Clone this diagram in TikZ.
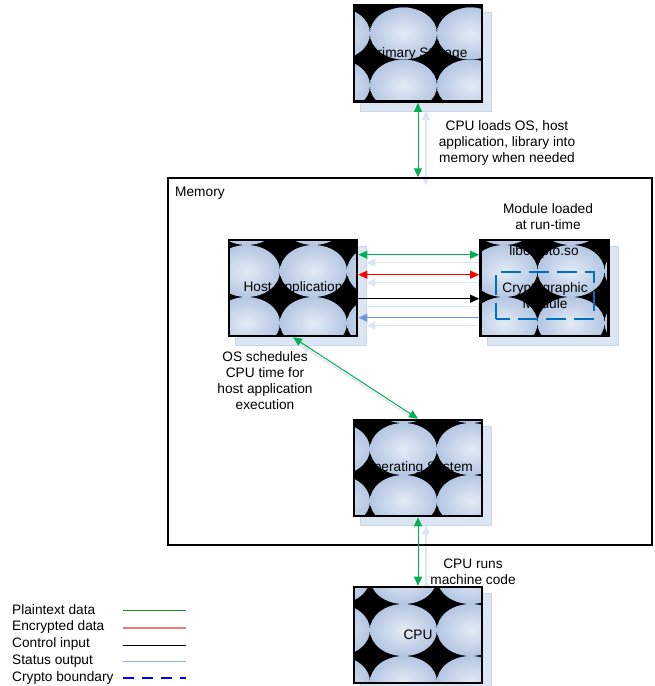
\documentclass[tikz,border=0pt]{standalone}
\usepackage{fontspec}
\setmainfont{Liberation Sans}
\usetikzlibrary{arrows.meta,calc,backgrounds}
\definecolor{shadowblue}{HTML}{DCE6F2}
\definecolor{shadowedge}{HTML}{C8D7EC}
\definecolor{ellout}{HTML}{B4C6E2}
\definecolor{ellin}{HTML}{E4EBF6}
\definecolor{plaingreen}{HTML}{00B050}
\definecolor{statusblue}{HTML}{6F98D6}
\definecolor{boundblue}{HTML}{0070C0}
\definecolor{leggreen}{HTML}{1E8C1E}
\definecolor{legred}{HTML}{F07878}
\definecolor{legblue}{HTML}{8DB4E2}
\newcommand\ellgrid[2]{%
  \fill[black] (path picture bounding box.south west) rectangle (path picture bounding box.north east);
  \foreach \i in {-1,0,1,2}{\foreach \j in {-1,0,1,2}{%
    \shade[inner color=ellin, outer color=ellout]
      ([xshift={(#1+\i*67+33.5)*1pt}, yshift={-(#2+\j*52+26)*1pt}]path picture bounding box.north west)
      ellipse [x radius=33.5pt, y radius=26pt];
  }}}
\tikzset{
  txt/.style={font=\fontsize{13.7}{16}\selectfont, align=center, inner sep=0pt},
  fancy/.style={draw=black, line width=2.6pt, minimum width=128pt, minimum height=96pt,
    inner sep=0pt, font=\fontsize{13.7}{16}\selectfont, align=center},
  tip/.tip={Triangle[length=9pt,width=8pt]},
  conn/.style={line width=1pt},
  boxshadow/.style={fill=shadowblue, draw=shadowedge, line width=0.6pt},
  arrshadow/.style={draw=shadowblue, fill=shadowblue, line width=1.2pt},
}
\begin{document}
\begin{tikzpicture}[x=1pt,y=-1pt]
\useasboundingbox (0,0) rectangle (654,686);

% memory container
\node[draw, line width=1.5pt, minimum width=484pt, minimum height=367pt, inner sep=0pt] (mem) at (410,361.5) {};
\node[txt, anchor=west] (memtxt) at (175,193) {Memory};

% boxes
\node[fancy, path picture={\ellgrid{16}{2}}] (prim) at (418,53.5) {Primary Storage};
\node[fancy, path picture={\ellgrid{51}{5}}] (host) at (293,288) {Host Application};
\node[fancy, path picture={\ellgrid{57}{5}}] (lib) at (544.5,288) {};
\node[fancy, path picture={\ellgrid{16}{3}}] (os) at (418,468) {Operating System};
\node[fancy, path picture={\ellgrid{16}{17}}] (cpu) at (418,635) {CPU};

\node[txt] (libtxt) at (544,252) {libcrypto.so};
\node[draw=boundblue, line width=2.6pt, dash pattern=on 20pt off 8pt, dash phase=6pt,
  minimum width=98pt, minimum height=47pt, inner sep=0pt, txt] (bound) at (545,295.5) {Cryptographic\\Module};

% shadows
\begin{scope}[on background layer]
  \foreach \n in {prim,host,lib,os,cpu}{
    \path[boxshadow] ([shift={(8pt,-8pt)}]\n.north west) rectangle ([shift={(8pt,-8pt)}]\n.south east);
  }
  \begin{scope}[transform canvas={shift={(8pt,-8pt)}}]
    \draw[arrshadow, tip-tip] (prim.south) -- (prim.south |- mem.north);
    \draw[arrshadow, tip-tip] (os.south) -- (cpu.north);
    \draw[arrshadow, tip-tip] (host.south) -- (os.north);
    \draw[arrshadow, tip-tip] ($(host.north east)+(0,16)$) -- ($(lib.north west)+(0,16)$);
    \draw[arrshadow, tip-tip] ($(host.north east)+(0,36)$) -- ($(lib.north west)+(0,36)$);
    \draw[arrshadow, -tip] ($(host.north east)+(0,60)$) -- ($(lib.north west)+(0,60)$);
    \draw[arrshadow, -tip] ($(lib.north west)+(0,79)$) -- ($(host.north east)+(0,79)$);
  \end{scope}
\end{scope}

% connectors
\draw[conn, plaingreen, tip-tip] (prim.south) -- (prim.south |- mem.north);
\draw[conn, plaingreen, tip-tip] (os.south) -- (cpu.north);
\draw[conn, plaingreen, tip-tip] (host.south) -- (os.north);
\draw[conn, plaingreen, tip-tip] ($(host.north east)+(0,16)$) -- ($(lib.north west)+(0,16)$);
\draw[conn, red, tip-tip] ($(host.north east)+(0,36)$) -- ($(lib.north west)+(0,36)$);
\draw[conn, black, -tip] ($(host.north east)+(0,60)$) -- ($(lib.north west)+(0,60)$);
\draw[conn, statusblue, -tip] ($(lib.north west)+(0,79)$) -- ($(host.north east)+(0,79)$);

% labels
\node[txt] (loadtxt) at (507,142.5) {CPU loads OS, host\\application, library into\\memory when needed};
\node[txt] (modtxt) at (548,217) {Module loaded\\at run-time};
\node[txt] (schedtxt) at (265,381) {OS schedules\\CPU time for\\host application\\execution};
\node[txt] (runtxt) at (473,571.5) {CPU runs\\machine code};

% legend
\node[txt, anchor=west] (l1) at (12,610) {Plaintext data};
\node[txt, anchor=west] (l2) at (12,627) {Encrypted data};
\node[txt, anchor=west] (l3) at (12,644) {Control input};
\node[txt, anchor=west] (l4) at (12,661) {Status output};
\node[txt, anchor=west] (l5) at (12,678) {Crypto boundary};
\draw[leggreen, line width=0.8pt] (123,610) -- (186,610);
\draw[legred, line width=1.4pt] (123,628) -- (186,628);
\draw[black, line width=0.8pt] (123,645) -- (186,645);
\draw[legblue, line width=1pt] (123,661) -- (186,661);
\draw[blue, line width=2.4pt, dash pattern=on 11pt off 8pt] (123,678) -- (186,678);
\end{tikzpicture}
\end{document}
